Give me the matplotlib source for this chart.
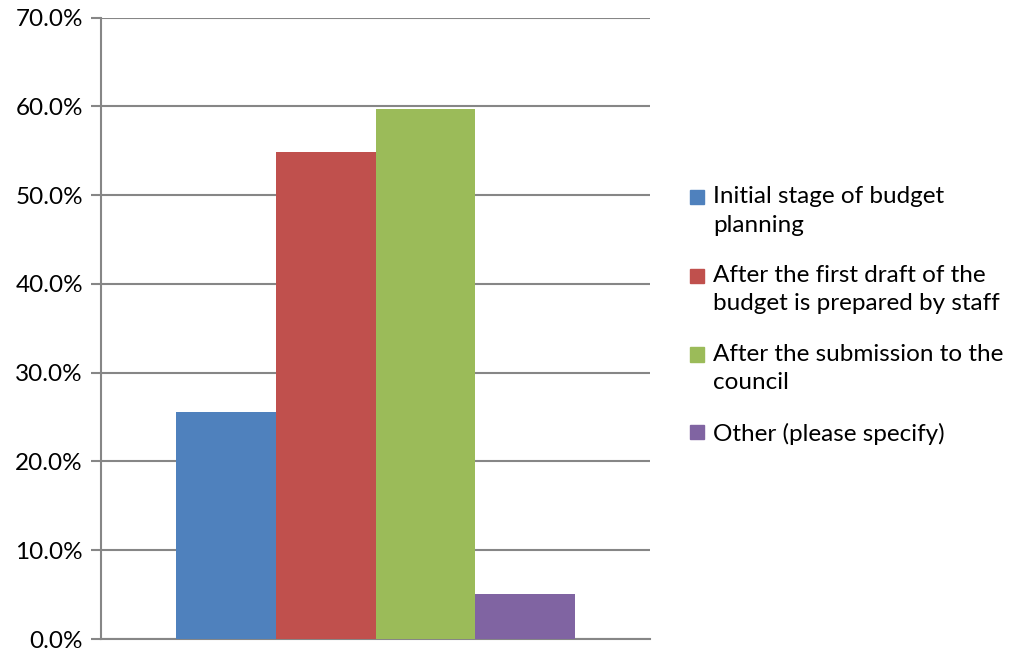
import matplotlib.pyplot as plt
from matplotlib.patches import Rectangle
from matplotlib.legend_handler import HandlerPatch
from matplotlib.ticker import PercentFormatter

labels = ['Initial stage of budget\nplanning',
          'After the first draft of the\nbudget is prepared by staff',
          'After the submission to the\ncouncil',
          'Other (please specify)']
values = [25.6, 54.9, 59.7, 5.1]
colors = ['#4f81bd', '#c0504d', '#9bbb59', '#8064a2']

plt.rcParams['font.family'] = ['Lato', 'DejaVu Sans']

fig = plt.figure(figsize=(10.12, 6.5), dpi=100)
ax = fig.add_axes([0.0998, 0.0169, 0.5425, 0.956])

# one category, four series side by side (gap width 150%)
bw = 1 / (4 + 1.5)
x0 = 0.5 - 2 * bw
for i in range(len(values)):
    ax.bar(x0 + (i + 0.5) * bw, values[i], width=bw, color=colors[i], zorder=3)

ax.set_xlim(0, 1)
ax.set_ylim(0, 70)
ax.set_yticks(range(0, 71, 10))
ax.yaxis.set_major_formatter(PercentFormatter(decimals=1))
ax.set_xticks([])
ax.grid(axis='y', color='#868686', linewidth=1.5, zorder=0)
ax.set_axisbelow(True)
for s in ['top', 'right']:
    ax.spines[s].set_visible(False)
ax.spines['left'].set_color('#868686')
ax.spines['left'].set_linewidth(1.5)
ax.spines['bottom'].set_color('#868686')
ax.spines['bottom'].set_linewidth(1.5)
ax.tick_params(axis='y', length=7, width=1.5, color='#868686', labelsize=17.5, pad=6)


# legend squares sit next to the first line of a wrapped label, like excel
def top_square(legend, orig_handle, xdescent, ydescent, width, height, fontsize):
    n = orig_handle.get_label().count('\n')
    off = n * 0.5 * 1.4 * fontsize * 0.8
    return Rectangle((-xdescent, -ydescent + off), width, height)


handles = [Rectangle((0, 0), 1, 1, color=c, label=l) for c, l in zip(colors, labels)]
leg = fig.legend(handles=handles, loc='center left', bbox_to_anchor=(0.670, 0.515), frameon=False,
                 fontsize=17.5, handlelength=0.55, handleheight=0.55, handletextpad=0.4,
                 labelspacing=1.2, borderpad=0,
                 handler_map={Rectangle: HandlerPatch(patch_func=top_square)})
for t in leg.get_texts():
    t.set_linespacing(1.45)

fig.savefig('out.png', dpi=100)
